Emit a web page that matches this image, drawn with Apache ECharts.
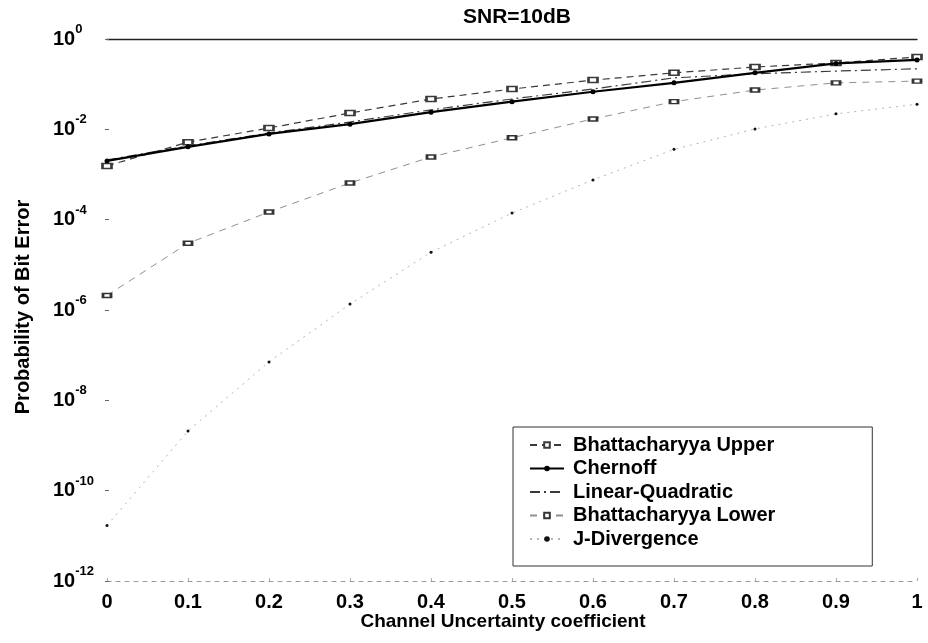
<!DOCTYPE html>
<html>
<head>
<meta charset="utf-8">
<title>SNR=10dB</title>
<script src="https://cdn.jsdelivr.net/npm/echarts@6/dist/echarts.min.js"></script>
<style>
  html, body { margin: 0; padding: 0; background: #fff; }
  #chart { width: 928px; height: 643px; }
</style>
</head>
<body>
<div id="chart"></div>
<script>
// Channel uncertainty coefficient (x) and error-probability bounds at SNR = 10 dB
const uncertainty = [0, 0.1, 0.2, 0.3, 0.4, 0.5, 0.6, 0.7, 0.8, 0.9, 1];

const bhattacharyyaUpper = [1.55e-3, 5.2e-3, 1.07e-2, 2.3e-2, 4.7e-2, 7.8e-2, 0.123, 0.178, 0.24, 0.295, 0.40];
const chernoff           = [2.0e-3, 4.1e-3, 7.9e-3, 1.3e-2, 2.4e-2, 4.1e-2, 6.8e-2, 0.107, 0.178, 0.288, 0.345];
const linearQuadratic    = [2.1e-3, 4.3e-3, 8.3e-3, 1.45e-2, 2.7e-2, 4.7e-2, 7.8e-2, 0.138, 0.17, 0.195, 0.219];
const bhattacharyyaLower = [2.1e-6, 3.0e-5, 1.48e-4, 6.5e-4, 2.45e-3, 6.5e-3, 1.7e-2, 4.1e-2, 7.4e-2, 0.107, 0.117];
const jDivergence        = [1.7e-11, 2.1e-9, 7.1e-8, 1.35e-6, 1.9e-5, 1.4e-4, 7.6e-4, 3.6e-3, 1.02e-2, 2.2e-2, 3.6e-2];

const seriesNames = ['Bhattacharyya Upper', 'Chernoff', 'Linear-Quadratic', 'Bhattacharyya Lower', 'J-Divergence'];
const xTickLabels = ['0', '0.1', '0.2', '0.3', '0.4', '0.5', '0.6', '0.7', '0.8', '0.9', '1'];

const FONT = "'Liberation Sans', Arial, Helvetica, sans-serif";

function pairs(values) {
  return uncertainty.map((x, i) => [x, values[i]]);
}

const chart = echarts.init(document.getElementById('chart'), null, { renderer: 'canvas' });

const option = {
  backgroundColor: '#ffffff',
  animation: false,
  title: {
    text: 'SNR=10dB',
    left: 512,
    top: 2,
    textAlign: 'center',
    textStyle: { fontFamily: FONT, fontSize: 21, fontWeight: 'bold', color: '#000' }
  },
  grid: { left: 107, right: 11, top: 39, bottom: 62, containLabel: false },
  xAxis: [
    {
      type: 'value', position: 'bottom', min: 0, max: 1, interval: 0.1,
      axisLine: { show: true, lineStyle: { color: '#999', width: 1, type: [4, 5] } },
      axisTick: { show: true, inside: true, length: 3, lineStyle: { color: '#aaa' } },
      splitLine: { show: false },
      axisLabel: {
        margin: 11, color: '#000', fontFamily: FONT, fontSize: 20, fontWeight: 'bold',
        formatter: v => xTickLabels[Math.round(v * 10)]
      }
    },
    {
      type: 'value', position: 'top', min: 0, max: 1, interval: 0.1,
      axisLine: { show: true, lineStyle: { color: '#222', width: 1.3 } },
      axisTick: { show: false }, axisLabel: { show: false }, splitLine: { show: false }
    }
  ],
  yAxis: [
    {
      type: 'log', logBase: 10, min: 1e-12, max: 1, interval: 2, position: 'left',
      axisLine: { show: false },
      axisTick: { show: true, inside: true, length: 2, lineStyle: { color: '#666' } },
      splitLine: { show: false },
      minorTick: { show: false },
      axisLabel: {
        align: 'left', margin: 54, color: '#000', padding: [0, 0, 6, 0],
        formatter: v => '{b|10}{s|' + Math.round(Math.log10(v)) + '}',
        rich: {
          b: { fontFamily: FONT, fontSize: 20, fontWeight: 'bold', lineHeight: 26, verticalAlign: 'bottom', color: '#000' },
          s: { fontFamily: FONT, fontSize: 13, fontWeight: 'bold', lineHeight: 13, verticalAlign: 'top', color: '#000' }
        }
      }
    },
    {
      type: 'log', logBase: 10, min: 1e-12, max: 1, interval: 2, position: 'right',
      axisLine: { show: false },
      axisTick: { show: true, inside: true, length: 2, lineStyle: { color: '#666' } },
      axisLabel: { show: false }, splitLine: { show: false }
    }
  ],
  legend: {
    orient: 'vertical',
    left: 513, top: 427,
    padding: [8, 97, 17, 16],
    itemGap: 3.5,
    itemWidth: 34, itemHeight: 7,
    backgroundColor: '#fff',
    borderColor: '#333', borderWidth: 1,
    textStyle: { fontFamily: FONT, fontSize: 20, fontWeight: 'bold', color: '#000', padding: [0, 0, 0, 4] },
    data: seriesNames
  },
  series: [
    {
      name: seriesNames[0], type: 'line', data: pairs(bhattacharyyaUpper),
      symbol: 'emptyRect', symbolSize: [9, 5], showSymbol: true,
      lineStyle: { color: '#3a3a3a', width: 1.2, type: [7, 5] },
      itemStyle: { color: '#3a3a3a', borderColor: '#3a3a3a', borderWidth: 1 },
      z: 3
    },
    {
      name: seriesNames[1], type: 'line', data: pairs(chernoff),
      symbol: 'circle', symbolSize: 5, showSymbol: true,
      lineStyle: { color: '#000', width: 2.2, type: 'solid' },
      itemStyle: { color: '#000' },
      z: 5
    },
    {
      name: seriesNames[2], type: 'line', data: pairs(linearQuadratic),
      symbol: 'none',
      lineStyle: { color: '#3a3a3a', width: 1.2, type: [10, 4, 2, 4] },
      itemStyle: { color: 'transparent', borderWidth: 0 },
      z: 4
    },
    {
      name: seriesNames[3], type: 'line', data: pairs(bhattacharyyaLower),
      symbol: 'emptyRect', symbolSize: [8, 4], showSymbol: true,
      lineStyle: { color: '#8f8f8f', width: 1, type: [7, 6] },
      itemStyle: { color: '#333', borderColor: '#333', borderWidth: 1 },
      z: 3
    },
    {
      name: seriesNames[4], type: 'line', data: pairs(jDivergence),
      symbol: 'circle', symbolSize: 3, showSymbol: true,
      lineStyle: { color: '#b5b5b5', width: 1, type: [2, 5] },
      itemStyle: { color: '#111' },
      z: 3
    }
  ],
  graphic: [
    {
      type: 'text', x: 503, y: 622,
      style: {
        text: 'Channel Uncertainty coefficient', fill: '#000',
        font: 'bold 19px ' + FONT, align: 'center', verticalAlign: 'middle'
      }
    },
    {
      type: 'text', x: 23, y: 307, rotation: Math.PI / 2,
      style: {
        text: 'Probability of Bit Error', fill: '#000',
        font: 'bold 20px ' + FONT, align: 'center', verticalAlign: 'middle'
      }
    }
  ]
};

chart.setOption(option);
</script>
</body>
</html>
